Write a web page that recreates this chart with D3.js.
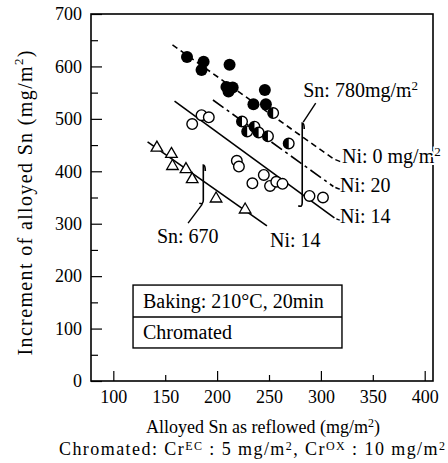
<!DOCTYPE html>
<html><head><meta charset="utf-8">
<script src="https://cdn.jsdelivr.net/npm/d3@7"></script>
<style>
html,body{margin:0;padding:0;background:#fff;}
svg{display:block;font-family:"Liberation Serif","Times New Roman",serif;}
</style></head><body>
<svg id="c" width="448" height="463"></svg>
<script>
// ---- data ----
const xMajor = [100, 150, 200, 250, 300, 350, 400];
const yMajor = [0, 100, 200, 300, 400, 500, 600, 700];
const yMinor = [50, 150, 250, 350, 450, 550, 650];

// Ni: 0 mg/m2 (filled circles)
const ni0X = [171, 187, 185, 212, 209, 215, 211, 246, 235, 247];
const ni0Y = [618, 609, 593, 603, 561, 560, 552, 555, 528, 528];
// Ni: 20 (half-filled circles)
const ni20X = [224, 229, 236, 240, 249, 269, 254];
const ni20Y = [495, 476, 485, 474, 467, 453, 511];
// Ni: 14, Sn 780 (open circles)
const ni14X = [176, 185, 192, 219, 221, 245, 234, 251, 257, 263, 289, 302];
const ni14Y = [490, 507, 503, 420, 409, 393, 377, 372, 380, 376, 353, 350];
// Ni: 14, Sn 670 (triangles)
const sn670X = [142, 156, 157, 170, 176, 199, 227];
const sn670Y = [447, 435, 412, 406, 387, 350, 329];

// fitted lines: [x1, x2], [y1, y2]
const lineNi0X = [157, 312], lineNi0Y = [641, 424];
const lineNi20X = [196, 312], lineNi20Y = [536, 371];
const lineNi14X = [159, 313], lineNi14Y = [534, 311];
const line670X = [133, 248], line670Y = [456, 296];

// ---- chart ----
const svg = d3.select("#c");
const W = 448, H = 463;
const m = {l: 91, r: 15, t: 14, b: 82};
const x = d3.scaleLinear().domain([78.5, 408]).range([m.l, W - m.r]);
const y = d3.scaleLinear().domain([0, 700]).range([H - m.b, m.t]);
const FS = 18, FA = 20;

const g = svg.append("g");

// frame
g.append("rect").attr("x", x.range()[0]).attr("y", y.range()[1])
  .attr("width", x.range()[1] - x.range()[0]).attr("height", y.range()[0] - y.range()[1])
  .attr("fill", "none").attr("stroke", "#000").attr("stroke-width", 1.6);

// axes (inward ticks)
const xAx = g.append("g").attr("transform", `translate(0,${y.range()[0]})`)
  .call(d3.axisBottom(x).tickValues(xMajor).tickSize(-9).tickPadding(9).tickFormat(d3.format("d")));
xAx.select(".domain").remove();
xAx.selectAll(".tick line").attr("stroke-width", 1.2).attr("y2", d => d % 100 === 0 ? -10 : -6);
xAx.selectAll("text").attr("font-size", FS).attr("font-family", "Liberation Serif").attr("fill", "#000");

const yAx = g.append("g").attr("transform", `translate(${x.range()[0]},0)`)
  .call(d3.axisLeft(y).tickValues(yMajor).tickSize(-11).tickPadding(9).tickFormat(d3.format("d")));
yAx.select(".domain").remove();
yAx.selectAll(".tick line").attr("stroke-width", 1.2);
yAx.selectAll("text").attr("font-size", FS).attr("font-family", "Liberation Serif").attr("fill", "#000");
const yAxm = g.append("g").attr("transform", `translate(${x.range()[0]},0)`)
  .call(d3.axisLeft(y).tickValues(yMinor).tickSize(-7).tickFormat(""));
yAxm.select(".domain").remove();
yAxm.selectAll(".tick line").attr("stroke-width", 1.2);

// axis titles
const yt = svg.append("text").attr("transform", `translate(27,203) rotate(-90)`)
  .attr("text-anchor", "middle").attr("font-size", 20).attr("dominant-baseline", "middle")
  .attr("textLength", 305).attr("lengthAdjust", "spacing");
yt.append("tspan").text("Increment of alloyed Sn (mg/m");
yt.append("tspan").attr("font-size", 13).attr("dy", -7).text("2");
yt.append("tspan").attr("dy", 7).text(")");

const xt = svg.append("text").attr("x", 263).attr("y", 433).attr("text-anchor", "middle").attr("font-size", FS);
xt.append("tspan").text("Alloyed Sn as reflowed (mg/m");
xt.append("tspan").attr("font-size", 12).attr("dy", -6).text("2");
xt.append("tspan").attr("dy", 6).text(")");

const xt2 = svg.append("text").attr("x", 252).attr("y", 455).attr("text-anchor", "middle").attr("font-size", FS)
  .attr("textLength", 386).attr("lengthAdjust", "spacing");
xt2.append("tspan").text("Chromated: Cr");
xt2.append("tspan").attr("font-size", 12).attr("dy", -5).text("EC");
xt2.append("tspan").attr("dy", 5).text(" : 5 mg/m");
xt2.append("tspan").attr("font-size", 12).attr("dy", -5).text("2");
xt2.append("tspan").attr("dy", 5).text(", Cr");
xt2.append("tspan").attr("font-size", 12).attr("dy", -5).text("OX");
xt2.append("tspan").attr("dy", 5).text(" : 10 mg/m");
xt2.append("tspan").attr("font-size", 12).attr("dy", -5).text("2");

// fitted lines
function drawLine(xs, ys, dash) {
  g.append("line").attr("x1", x(xs[0])).attr("y1", y(ys[0])).attr("x2", x(xs[1])).attr("y2", y(ys[1]))
    .attr("stroke", "#000").attr("stroke-width", 1.6).attr("stroke-dasharray", dash);
}
drawLine(lineNi0X, lineNi0Y, "6,4");
drawLine(lineNi20X, lineNi20Y, "13,4,3,4");
drawLine(lineNi14X, lineNi14Y, null);
drawLine(line670X, line670Y, null);

// markers
const R = 5.3;
const zip = (a, b) => a.map((v, i) => [v, b[i]]);
g.selectAll(".ni0").data(zip(ni0X, ni0Y)).join("circle")
  .attr("cx", d => x(d[0])).attr("cy", d => y(d[1])).attr("r", R + 0.7).attr("fill", "#000");
g.selectAll(".ni14").data(zip(ni14X, ni14Y)).join("circle")
  .attr("cx", d => x(d[0])).attr("cy", d => y(d[1])).attr("r", R).attr("fill", "#fff")
  .attr("stroke", "#000").attr("stroke-width", 1.4);
const hf = g.selectAll(".ni20").data(zip(ni20X, ni20Y)).join("g")
  .attr("transform", d => `translate(${x(d[0])},${y(d[1])})`);
hf.append("circle").attr("r", R).attr("fill", "#fff").attr("stroke", "#000").attr("stroke-width", 1.4);
hf.append("path").attr("d", `M0,${-R}A${R},${R} 0 0 0 0,${R}Z`).attr("fill", "#000");
g.selectAll(".tri").data(zip(sn670X, sn670Y)).join("path")
  .attr("transform", d => `translate(${x(d[0])},${y(d[1])})`)
  .attr("d", "M0,-5.5L5.8,4.5L-5.8,4.5Z").attr("fill", "#fff").attr("stroke", "#000").attr("stroke-width", 1.3);

// annotations
function txt(px, py, parts) {
  const t = svg.append("text").attr("x", px).attr("y", py).attr("font-size", FA)
    .attr("paint-order", "stroke").attr("stroke", "#fff").attr("stroke-width", 4);
  parts.forEach(p => {
    if (typeof p === "string") t.append("tspan").text(p);
    else t.append("tspan").attr("font-size", 13).attr("dy", p.dy).text(p.s);
  });
  return t;
}
const seg = (x1, y1, x2, y2, w) => g.append("line").attr("x1", x1).attr("y1", y1).attr("x2", x2).attr("y2", y2)
  .attr("stroke", "#000").attr("stroke-width", w || 1.4);

// Sn: 780 bracket
{
  const bx = x(282), t = y(492), b = y(340);
  g.append("path").attr("d", `M${bx + 2},${t + 6}Q${bx + 2},${t} ${bx},${t}L${bx},${b}Q${bx},${b + 5} ${bx - 4},${b + 3}`)
    .attr("fill", "none").attr("stroke", "#000").attr("stroke-width", 1.6);
  seg(bx + 1, t - 1, x(295), y(530));
  txt(x(283), y(542), ["Sn: 780mg/m", {s: "2", dy: -7}]);
}
// Sn: 670 bracket
{
  const bx = x(186.7), t = y(412), b = y(345);
  g.append("path").attr("d", `M${bx + 2},${t + 6}Q${bx + 2},${t} ${bx},${t}L${bx},${b}Q${bx},${b + 5} ${bx - 4},${b + 3}`)
    .attr("fill", "none").attr("stroke", "#000").attr("stroke-width", 1.6);
  seg(bx - 1, b + 4, x(172), y(301));
  txt(x(142), y(263), ["Sn: 670"]);
}
// Ni labels
seg(x(lineNi0X[1]) + 2, y(lineNi0Y[1]) + 1, x(lineNi0X[1]) + 7, y(lineNi0Y[1]) + 3);
txt(x(320.3), y(416), ["Ni: 0 mg/m", {s: "2", dy: -7}]);
seg(x(lineNi20X[1]) + 2, y(lineNi20Y[1]) + 1, x(lineNi20X[1]) + 7, y(lineNi20Y[1]) + 3);
txt(x(318.4), y(360.5), ["Ni: 20"]);
seg(x(lineNi14X[1]) + 2, y(lineNi14Y[1]) + 1, x(lineNi14X[1]) + 7, y(lineNi14Y[1]) + 3);
txt(x(318.4), y(301.4), ["Ni: 14"]);
txt(x(251), y(255.6), ["Ni: 14"]);

// condition box
{
  const bx0 = x(119), bx1 = x(320.3), by0 = y(183), by1 = y(63), bym = y(122);
  g.append("rect").attr("x", bx0).attr("y", by0).attr("width", bx1 - bx0).attr("height", by1 - by0)
    .attr("fill", "#fff").attr("stroke", "#000").attr("stroke-width", 1.4);
  seg(bx0, bym, bx1, bym);
  svg.append("text").attr("x", bx0 + 10).attr("y", by0 + 23).attr("font-size", FA).text("Baking: 210°C, 20min");
  svg.append("text").attr("x", bx0 + 10).attr("y", bym + 22).attr("font-size", FA).text("Chromated");
}
</script>
</body></html>
